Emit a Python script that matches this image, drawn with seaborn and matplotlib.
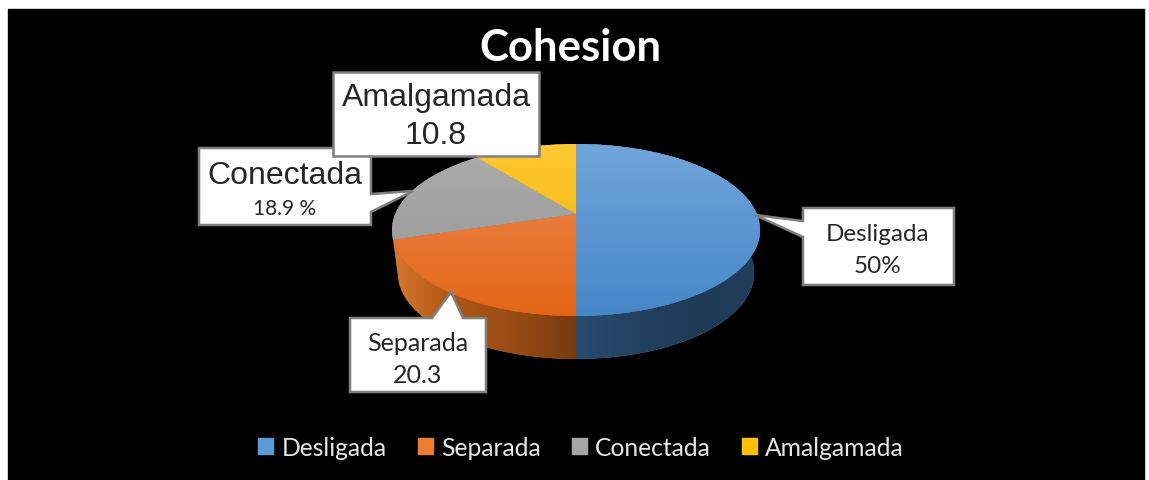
import matplotlib
matplotlib.use("Agg")
import matplotlib.pyplot as plt
import matplotlib.patches as mpatches
from matplotlib.transforms import Transform
import numpy as np
import seaborn as sns

categories = ["Desligada", "Separada", "Conectada", "Amalgamada"]
values = [50, 20.3, 18.9, 10.8]
value_labels = ["50%", "20.3", "18.9 %", "10.8"]
base_colors = ["#5B9BD5", "#ED7D31", "#A5A5A5", "#FFC000"]
title = "Cohesion"

sns.set_theme(style="white")
plt.rcParams["font.family"] = ["Lato", "DejaVu Sans"]
palette = sns.color_palette(base_colors)

W, H = 1149, 481

# top face gradient, top colour then bottom colour
top_shades = [((113, 165, 218), (70, 135, 200)),
              ((238, 138, 85), (227, 102, 22)),
              ((172, 172, 172), (148, 148, 148)),
              ((255, 200, 50), (232, 182, 0))]
# side wall gradient, along x
wall_x = [[576, 640, 700, 760], [392, 450, 520, 576]]
wall_shades = [[(38, 76, 112), (35, 66, 96), (30, 58, 85), (33, 64, 92)],
               [(215, 120, 45), (175, 85, 20), (150, 75, 20), (120, 58, 15)]]

CX, AY, K, B, C = 576, 215, 180.8, 43, 0.186
DEPTH, K_LOW = 43, 175


class Tilt(Transform):
    # unit pie -> tilted pie in pixels, the far side looks smaller
    input_dims = 2
    output_dims = 2
    is_affine = False

    def __init__(self, k=K, dy=0):
        super().__init__()
        self.k = k
        self.dy = dy

    def transform_non_affine(self, pts):
        pts = np.asarray(pts)
        u, v = pts[:, 0], pts[:, 1]
        d = 1 + C * v
        return np.column_stack([CX + self.k * u / d, (AY - B * v) / d + self.dy])


fig, ax = plt.subplots(figsize=(W / 100, H / 100), dpi=100)
fig.subplots_adjust(0, 0, 1, 1)
fig.patch.set_facecolor("white")

wedges, _ = ax.pie(values, colors=palette, startangle=90, counterclock=False, frame=True)
ax.set_aspect("auto")
ax.add_patch(mpatches.Rectangle((8, 10), 1136, 480, color="black", zorder=0))

top = Tilt()
low = Tilt(K_LOW, DEPTH)

# side walls, only the first two slices show at the front
for i, w in enumerate(wedges[:2]):
    t = np.radians(np.linspace(w.theta1, w.theta2, 120))
    arc = np.column_stack([np.cos(t), np.sin(t)])
    poly = np.vstack([top.transform_non_affine(arc), low.transform_non_affine(arc)[::-1]])
    wall = mpatches.Polygon(poly, closed=True, fc=base_colors[i], ec="none", zorder=1)
    ax.add_patch(wall)
    xs = np.arange(wall_x[i][0], wall_x[i][-1] + 1)
    shades = np.array(wall_shades[i], dtype=float)
    grad = np.stack([np.interp(xs, wall_x[i], shades[:, c]) for c in range(3)], axis=-1) / 255
    im = ax.imshow(grad[None, :, :], extent=(xs[0], xs[-1], 362, 225), aspect="auto", zorder=2)
    im.set_clip_path(wall)

# top faces
for w, (c0, c1) in zip(wedges, top_shades):
    w.set_transform(top + ax.transData)
    w.set_zorder(3)
    w.set_edgecolor("none")
    mix = np.linspace(0, 1, 172)[:, None]
    grad = (np.array(c0) * (1 - mix) + np.array(c1) * mix)[:, None, :] / 255
    im = ax.imshow(grad, extent=(380, 770, 317, 145), aspect="auto", zorder=4)
    im.set_clip_path(w)

# callouts: outline with the pointer, then text
callouts = [
    [(199, 149), (371, 149), (371, 195), (413, 192), (371, 213), (371, 226), (199, 226)],
    [(333, 73), (539, 73), (539, 157), (333, 157)],
    [(350, 319), (432, 319), (451, 293), (463, 319), (486, 319), (486, 393), (350, 393)],
    [(803, 209), (954, 209), (954, 286), (803, 286), (803, 238), (755, 216), (803, 222)],
]
for j, pts in enumerate(callouts):
    ax.add_patch(mpatches.Polygon(pts, closed=True, fc="white", ec="#7f7f7f", lw=1.8, zorder=5 + j * 0.1))

txt = dict(ha="center", va="center", color="#262626", zorder=7)
ax.text(436, 98, categories[3], family="Liberation Sans", fontsize=23, **txt)
ax.text(436, 136, value_labels[3], family="Liberation Sans", fontsize=23, **txt)
ax.text(285, 176, categories[2], family="Liberation Sans", fontsize=23, **txt)
ax.text(285, 209, value_labels[2], fontsize=15, **txt)
ax.text(418, 344, categories[1], fontsize=18, **txt)
ax.text(418, 376, value_labels[1], fontsize=18, **txt)
ax.text(878, 235, categories[0], fontsize=17.5, **txt)
ax.text(878, 267, value_labels[0], fontsize=17.5, **txt)

ax.text(570, 48, title, color="white", fontsize=31.5, fontweight="bold", ha="center", va="center", zorder=7)

handles = [mpatches.Patch(color=c) for c in palette]
ax.legend(handles, categories, ncol=4, frameon=False, loc="center", bbox_to_anchor=(581 / W, 1 - 448 / H),
          fontsize=17.7, labelcolor="#e6e6e6", handlelength=0.61, handleheight=0.61,
          handletextpad=0.33, columnspacing=1.27)

ax.set_xlim(0, W)
ax.set_ylim(H, 0)
ax.set_xticks([])
ax.set_yticks([])
for s in ax.spines.values():
    s.set_visible(False)

plt.savefig("out.png", dpi=100)
